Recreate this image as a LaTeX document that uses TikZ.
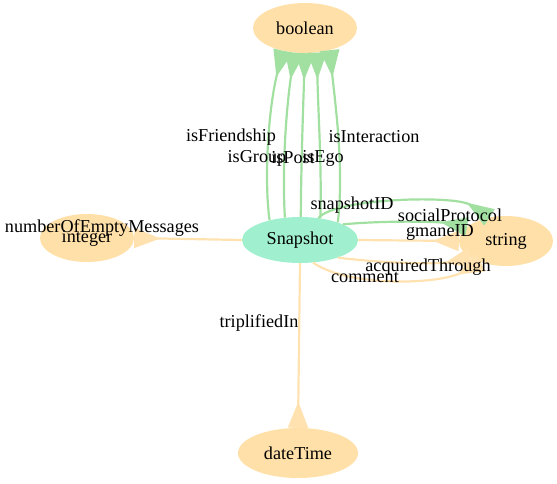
\documentclass[tikz,border=0pt]{standalone}
\usepackage{fontspec}
\setmainfont{Liberation Serif}
\usetikzlibrary{shapes.geometric,arrows.meta}
\definecolor{nodeor}{HTML}{FFE0A8}
\definecolor{nodegr}{HTML}{A0F0D0}
\definecolor{edgegr}{HTML}{A2E0A2}
\definecolor{edgeor}{HTML}{FFE2B0}
\begin{document}
\begin{tikzpicture}[x=1pt,y=-1pt,
  txt/.style={font=\fontsize{18.2}{21}\selectfont},
  cls/.style={ellipse,fill=nodeor,inner sep=0,txt},
  inst/.style={ellipse,fill=nodegr,inner sep=0,txt},
  lbl/.style={inner sep=0,txt},
  gedge/.style={draw=edgegr,line width=2.2pt,-{Triangle[reversed,length=27pt,width=19pt,color=edgegr]}},
  oedge/.style={draw=edgeor,line width=2.2pt,-{Triangle[reversed,length=26pt,width=20pt,color=edgeor]}}]
\useasboundingbox (0,0) rectangle (557,483);
% nodes
\node[cls,minimum width=104pt,minimum height=50pt] (boolean) at (305,28) {boolean};
\node[inst,minimum width=116pt,minimum height=46pt] (snap) at (300,240) {Snapshot};
\node[cls,minimum width=94pt,minimum height=48pt] (integer) at (87,238) {integer};
\node[cls,minimum width=94pt,minimum height=50pt] (string) at (506,241) {string};
\node[cls,minimum width=120pt,minimum height=50pt] (dateTime) at (298,453) {dateTime};
% edges to boolean
\draw[gedge] (snap.147) .. controls (264,180) and (268,110) .. (boolean.226);
\draw[gedge] (snap.124) .. controls (282,170) and (286,110) .. (boolean.247);
\draw[gedge] (snap.88) .. controls (301,170) and (303,110) .. (boolean.270);
\draw[gedge] (snap.47) .. controls (322,170) and (318,110) .. (boolean.296);
\draw[gedge] (snap.25) .. controls (344,170) and (336,110) .. (boolean.318);
% edges to string
\draw[gedge] (snap.50) .. controls (335,198) and (455,195) .. (string.125);
\draw[gedge] (snap.20) .. controls (390,220) and (440,222) .. (string.160);
\draw[oedge] (snap.east) -- (string.west);
\draw[oedge] (snap.-25) .. controls (390,264) and (440,264) .. (string.205);
\draw[oedge] (snap.-60) .. controls (350,288) and (440,284) .. (string.220);
% other edges
\draw[oedge] (snap.west) -- (integer.east);
\draw[oedge] (snap.south) -- (dateTime.north);
% labels
\node[lbl] (lFriend) at (231,137) {isFriendship};
\node[lbl] (lGroup) at (257,158) {isGroup};
\node[lbl] (lPost) at (293,158) {isPost};
\node[lbl] (lEgo) at (323,158) {isEgo};
\node[lbl] (lInter) at (374,137) {isInteraction};
\node[lbl] (lSnapID) at (352,205) {snapshotID};
\node[lbl] (lSocial) at (450,215) {socialProtocol};
\node[lbl] (lGmane) at (440,232) {gmaneID};
\node[lbl] (lAcq) at (428,267) {acquiredThrough};
\node[lbl] (lComment) at (365,277) {comment};
\node[lbl] (lEmpty) at (102,228) {numberOfEmptyMessages};
\node[lbl] (lTrip) at (259,323) {triplifiedIn};
\end{tikzpicture}
\end{document}
